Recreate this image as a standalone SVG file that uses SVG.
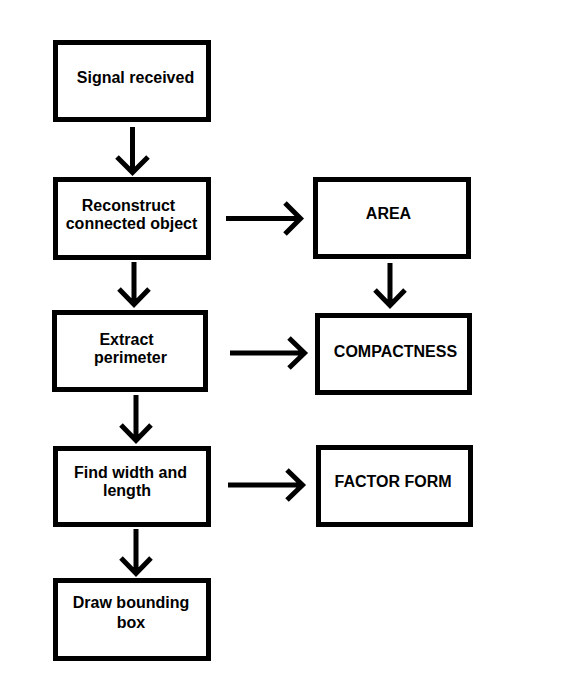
<svg xmlns="http://www.w3.org/2000/svg" width="568" height="695" viewBox="0 0 568 695">
<style>
.box{fill:#fff;stroke:#000;stroke-width:5}
.t{font-family:"Liberation Sans",Arial,sans-serif;font-weight:bold;font-size:16px;fill:#000;text-anchor:middle}
.c{fill:none;stroke:#000;stroke-width:5;stroke-linejoin:miter;stroke-linecap:butt}
</style>
<rect width="568" height="695" fill="#fff"/>
<g id="connectors">
<path class="c" d="M132.5,127V172M117,157L132.5,172.5L148,157"/>
<path class="c" d="M134,262V304M119,289L134,304.5L149,289"/>
<path class="c" d="M136,395V440M121,425L136,440.5L151,425"/>
<path class="c" d="M136,529V573M121,558L136,573.5L151,558"/>
<path class="c" d="M226,218.5H300M285,203L300.5,218.5L285,234"/>
<path class="c" d="M390,263V305M375,290L390,305.5L405,290"/>
<path class="c" d="M230,353H304M289,338L304.5,353L289,368"/>
<path class="c" d="M228,485H302M287,470L302.5,485L287,500"/>
</g>
<g id="n1"><rect class="box" x="55.5" y="42.5" width="153" height="77"/><text class="t" x="135.5" y="83">Signal received</text></g>
<g id="n2"><rect class="box" x="55.5" y="179.5" width="153" height="78"/><text class="t" x="128.5" y="211">Reconstruct</text><text class="t" x="131.5" y="229">connected object</text></g>
<g id="n3"><rect class="box" x="54.5" y="312.5" width="151" height="77"/><text class="t" x="126.5" y="345">Extract</text><text class="t" x="130.5" y="363">perimeter</text></g>
<g id="n4"><rect class="box" x="55.5" y="448.5" width="153" height="76"/><text class="t" x="130.5" y="478">Find width and</text><text class="t" x="127" y="496">length</text></g>
<g id="n5"><rect class="box" x="55.5" y="580.5" width="153" height="78"/><text class="t" x="131" y="608">Draw bounding</text><text class="t" x="131" y="628">box</text></g>
<g id="n6"><rect class="box" x="315.5" y="179.5" width="153" height="77"/><text class="t" x="388.5" y="219">AREA</text></g>
<g id="n7"><rect class="box" x="317.5" y="315.5" width="152" height="77"/><text class="t" x="395.5" y="357">COMPACTNESS</text></g>
<g id="n8"><rect class="box" x="318.5" y="447.5" width="152" height="77"/><text class="t" x="393" y="487">FACTOR FORM</text></g>
</svg>
